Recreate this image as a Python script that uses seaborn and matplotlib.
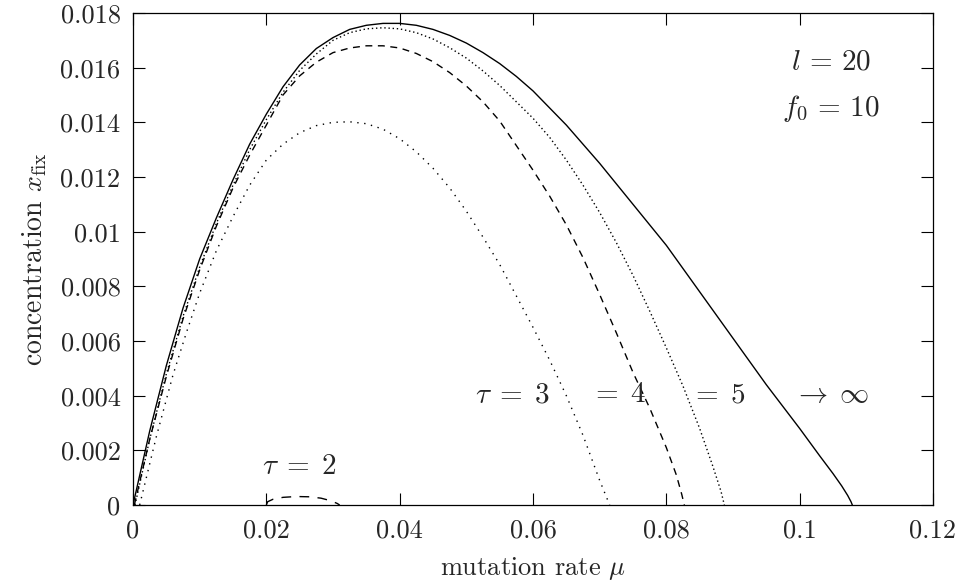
import matplotlib
matplotlib.use("Agg")
import matplotlib.pyplot as plt
import seaborn as sns
import pandas as pd

# ---- data ----
mu_inf = [0.0, 0.0025, 0.0050, 0.0075, 0.0100, 0.0125, 0.0150, 0.0175, 0.0200, 0.0225,
          0.0250, 0.0275, 0.0300, 0.0325, 0.0350, 0.0375, 0.0400, 0.0425, 0.0450, 0.0475,
          0.0500, 0.0525, 0.0550, 0.0575, 0.0600, 0.0650, 0.0700, 0.0750, 0.0800, 0.0850,
          0.0900, 0.0950, 0.1000, 0.1030, 0.1050, 0.1063, 0.1072, 0.1077, 0.1079]
x_inf = [0.0, 0.0027, 0.0051, 0.0072, 0.0090, 0.0105, 0.0119, 0.0132, 0.0143, 0.0153,
         0.0161, 0.0167, 0.0171, 0.01740, 0.01755, 0.01762, 0.01762, 0.01755, 0.01740, 0.01718,
         0.01690, 0.01655, 0.01615, 0.01568, 0.01515, 0.0139, 0.0125, 0.0110, 0.0095, 0.0078,
         0.0061, 0.0044, 0.0028, 0.0018, 0.00115, 0.00070, 0.00035, 0.00012, 0.0]

mu_5 = [0.0003, 0.0025, 0.0050, 0.0075, 0.0100, 0.0125, 0.0150, 0.0175, 0.0200, 0.0225,
        0.0250, 0.0275, 0.0300, 0.0325, 0.0350, 0.0375, 0.0400, 0.0425, 0.0450, 0.0475,
        0.0500, 0.0525, 0.0550, 0.0575, 0.0600, 0.0625, 0.0650, 0.0675, 0.0700, 0.0725,
        0.0750, 0.0775, 0.0800, 0.0825, 0.0850, 0.0870, 0.0882, 0.0887]
x_5 = [0.0, 0.0024, 0.0048, 0.0069, 0.0087, 0.0103, 0.0117, 0.0130, 0.0141, 0.0151,
       0.0159, 0.0165, 0.0170, 0.01728, 0.01742, 0.01746, 0.01742, 0.01728, 0.01705, 0.01673,
       0.01635, 0.01588, 0.01535, 0.01475, 0.01415, 0.01345, 0.01262, 0.01170, 0.01070, 0.00960,
       0.00840, 0.00710, 0.00575, 0.00435, 0.00280, 0.00140, 0.00050, 0.0]

mu_4 = [0.0002, 0.0025, 0.0050, 0.0075, 0.0100, 0.0125, 0.0150, 0.0175, 0.0200, 0.0225,
        0.0250, 0.0275, 0.0300, 0.0325, 0.0350, 0.0375, 0.0400, 0.0425, 0.0450, 0.0475,
        0.0500, 0.0525, 0.0550, 0.0575, 0.0600, 0.0625, 0.0650, 0.0675, 0.0700, 0.0725,
        0.0750, 0.0775, 0.0800, 0.0815, 0.0823, 0.0827]
x_4 = [0.0, 0.0024, 0.0047, 0.0068, 0.0086, 0.0102, 0.0116, 0.0128, 0.0139, 0.0150,
       0.0157, 0.0162, 0.01655, 0.01672, 0.01680, 0.01680, 0.01672, 0.01652, 0.01622, 0.01582,
       0.01533, 0.01475, 0.01405, 0.01315, 0.01225, 0.01130, 0.01025, 0.00905, 0.00770, 0.00630,
       0.00485, 0.00355, 0.00210, 0.00110, 0.00040, 0.0]

mu_3 = [0.0010, 0.0035, 0.0060, 0.0080, 0.0100, 0.0125, 0.0150, 0.0175, 0.0200, 0.0225,
        0.0250, 0.0275, 0.0300, 0.0325, 0.0350, 0.0375, 0.0400, 0.0425, 0.0450, 0.0475,
        0.0500, 0.0525, 0.0550, 0.0575, 0.0600, 0.0625, 0.0650, 0.0675, 0.0700, 0.0710, 0.0715]
x_3 = [0.0, 0.0025, 0.00476, 0.0063, 0.00775, 0.0093, 0.01055, 0.0117, 0.01262, 0.0132,
       0.01362, 0.01388, 0.01400, 0.01402, 0.01395, 0.01375, 0.01340, 0.01292, 0.01232, 0.01160,
       0.01075, 0.00980, 0.00880, 0.00765, 0.00650, 0.00530, 0.00400, 0.00255, 0.00090, 0.00030, 0.0]

mu_2 = [0.0200, 0.0202, 0.0210, 0.0225, 0.0245, 0.0265, 0.0282, 0.0296, 0.0306, 0.0310]
x_2 = [0.0, 0.00012, 0.00021, 0.00028, 0.00031, 0.00030, 0.00025, 0.00016, 0.00006, 0.0]

xtick_vals = [0, 0.02, 0.04, 0.06, 0.08, 0.1, 0.12]
xtick_labels = ["0", "0.02", "0.04", "0.06", "0.08", "0.1", "0.12"]
ytick_vals = [0, 0.002, 0.004, 0.006, 0.008, 0.01, 0.012, 0.014, 0.016, 0.018]
ytick_labels = ["0", "0.002", "0.004", "0.006", "0.008", "0.01", "0.012", "0.014", "0.016", "0.018"]

# ---- style ----
sns.set_style("ticks")
plt.rcParams["font.family"] = ["cmr10", "DejaVu Serif"]
plt.rcParams["mathtext.fontset"] = "cm"
plt.rcParams["axes.formatter.use_mathtext"] = True
plt.rcParams["axes.unicode_minus"] = False

fig = plt.figure(figsize=(9.57, 5.86), dpi=100)
ax = fig.add_axes([133 / 957, 81 / 586, 800 / 957, 492 / 586])

curves = [
    (mu_inf, x_inf, "-"),
    (mu_5, x_5, (0, (1, 2))),
    (mu_4, x_4, (0, (5, 4))),
    (mu_3, x_3, (0, (1, 4))),
    (mu_2, x_2, (0, (7, 6))),
]
for mus, xs, ls in curves:
    df = pd.DataFrame({"mu": mus, "x": xs})
    sns.lineplot(data=df, x="mu", y="x", ax=ax, color="black", lw=1.0,
                 linestyle=ls, sort=False, estimator=None)

ax.set_xlim(0, 0.12)
ax.set_ylim(0, 0.018)
ax.set_xticks(xtick_vals, xtick_labels)
ax.set_yticks(ytick_vals, ytick_labels)
ax.tick_params(direction="in", length=8.5, width=0.8, top=True, right=True,
               labelsize=19, color="black")
ax.tick_params(axis="y", pad=9)
ax.tick_params(axis="x", pad=10)
for s in ax.spines.values():
    s.set_linewidth(0.9)
    s.set_color("black")

ax.set_xlabel(r"mutation rate $\mu$", fontsize=19, labelpad=9)
ax.set_ylabel(r"concentration $x_{\rm fix}$", fontsize=20, labelpad=8)

fs = 21
ax.text(0.1047, 0.0162, r"$l\,=\,20$", fontsize=fs, ha="center", va="center")
ax.text(0.1047, 0.01452, r"$f_0\,=\,10$", fontsize=fs, ha="center", va="center")
ax.text(0.0513, 0.00402, r"$\tau\;=\;3$", fontsize=fs, ha="left", va="center")
ax.text(0.0686, 0.00402, r"$=\;4$", fontsize=fs, ha="left", va="center")
ax.text(0.0835, 0.00402, r"$=\;5$", fontsize=fs, ha="left", va="center")
ax.text(0.0990, 0.00402, r"$\rightarrow\;\infty$", fontsize=fs, ha="left", va="center")
ax.text(0.0250, 0.00139, r"$\tau\;=\;2$", fontsize=fs, ha="center", va="center")

fig.savefig("out.png", dpi=100)
